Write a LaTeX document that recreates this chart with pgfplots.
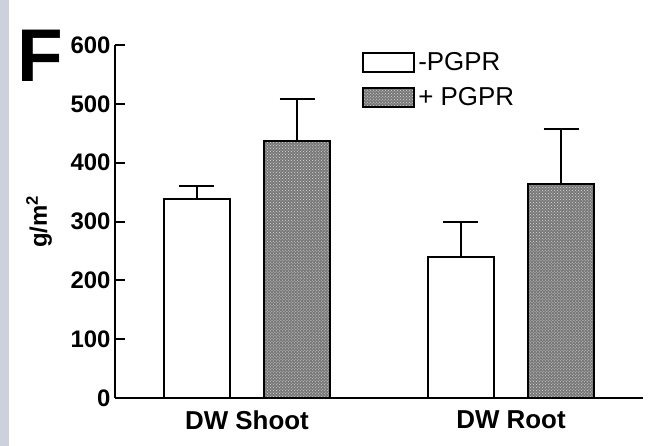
\documentclass[border=0pt]{standalone}
\usepackage{pgfplots}
\pgfplotsset{compat=1.18}
\usetikzlibrary{patterns}
\usepackage{fontspec}
\setmainfont{Liberation Sans}
\definecolor{strip}{RGB}{204,209,219}
\definecolor{barfill}{RGB}{120,120,120}

\begin{document}
\begin{tikzpicture}
\useasboundingbox (0,0) rectangle (653bp,446bp);
\fill[strip] (0,0) rectangle (9bp,446bp);
\node[anchor=base west, inner sep=0pt] at (17.5bp,364bp)
  {\fontsize{75}{75}\selectfont\bfseries F};
\begin{axis}[
  at={(115bp,48bp)}, anchor=south west,
  scale only axis, width=528bp, height=353bp,
  xmin=-0.5, xmax=1.5, ymin=0, ymax=600,
  axis x line=bottom, axis y line=left,
  axis line style={line width=2bp, -},
  ytick={0,100,...,600},
  xtick={0,1}, xticklabels={DW Shoot,DW Root},
  tick align=inside, major tick length=10bp,
  ytick style={line width=2bp, black},
  xtick style={draw=none},
  /pgf/number format/assume math mode=true,
  yticklabel style={font=\fontsize{24}{24}\selectfont\bfseries, xshift=-1bp},
  xticklabel style={font=\fontsize{26}{26}\selectfont\bfseries, yshift=-9bp},
  ylabel={g/m\textsuperscript{2}},
  ylabel style={font=\fontsize{24}{24}\selectfont\bfseries,
    at={(axis description cs:-0.144,0.5)}, anchor=center},
  legend image code/.code={
    \draw[#1, line width=2bp] (0bp,-9.5bp) rectangle (51bp,9.5bp);},
  legend style={at={(axis description cs:0.468,0.987)}, anchor=north west,
    draw=none, fill=none, inner sep=0pt, row sep=9bp,
    font=\fontsize{26}{26}\selectfont,
    nodes={inner sep=3bp}},
  legend cell align=left,
  error bars/error bar style={line width=2bp, black},
  error bars/error mark options={rotate=90, line width=2bp, mark size=17.5bp, black},
]
% without inoculation
\addplot[ybar, bar width=0.25, bar shift=0pt, draw=black, line width=2bp,
  fill=white,
  error bars/.cd, y dir=plus, y explicit]
  coordinates {(-0.19,338) +- (0,22) (0.81,239) +- (0,60)};
\addlegendentry{-PGPR}
% with inoculation
\addplot[ybar, bar width=0.25, bar shift=0pt, draw=black, line width=2bp,
  fill=barfill, postaction={pattern=crosshatch dots, pattern color=white!85!black},
  error bars/.cd, y dir=plus, y explicit]
  coordinates {(0.19,437) +- (0,71) (1.19,363) +- (0,94)};
\addlegendentry{+ PGPR}
\end{axis}
\end{tikzpicture}
\end{document}
